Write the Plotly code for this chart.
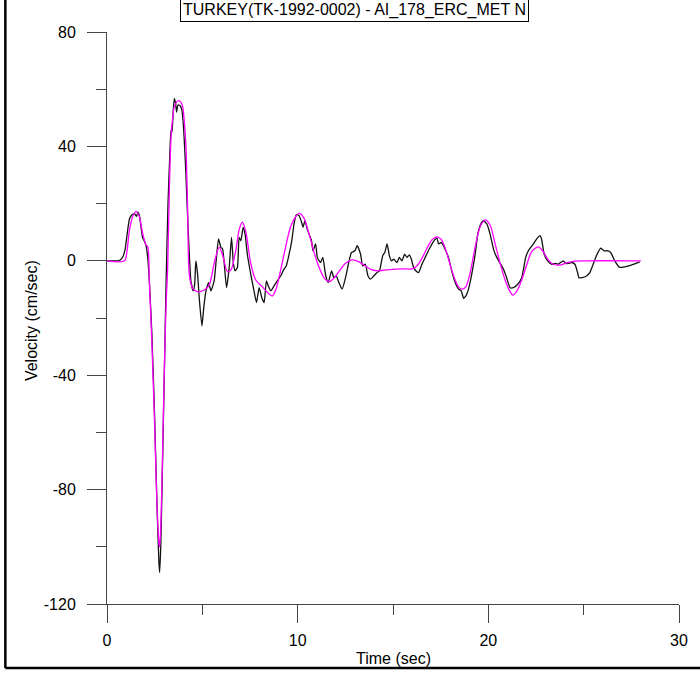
import plotly.graph_objects as go

# Recorded velocity (black)
rec_t = [0.0, 0.5, 0.7, 0.83, 0.95, 1.05, 1.18, 1.3, 1.44, 1.55, 1.62, 1.7, 1.8, 1.87, 1.95, 2.05, 2.15, 2.22,
         2.35, 2.5, 2.62, 2.72, 2.76, 2.82, 2.9, 3.0, 3.1, 3.2, 3.3, 3.36, 3.41, 3.47, 3.53, 3.6, 3.65, 3.72,
         3.79, 3.86, 3.93, 4.0, 4.07, 4.14, 4.25, 4.4, 4.52, 4.6, 4.66, 4.75, 4.85, 4.98, 5.08, 5.19, 5.33,
         5.45, 5.62, 5.74, 5.85, 5.97, 6.06, 6.27, 6.41, 6.53, 6.63, 6.72, 6.84, 6.93, 7.02, 7.14, 7.24, 7.36,
         7.54, 7.71, 7.84, 7.98, 8.12, 8.24, 8.36, 8.46, 8.59, 8.76, 8.93, 9.11, 9.28, 9.4, 9.55, 9.69, 9.81,
         9.93, 10.07, 10.21, 10.28, 10.38, 10.5, 10.63, 10.73, 10.8, 10.94, 11.03, 11.2, 11.32, 11.46, 11.6,
         11.78, 11.9, 12.02, 12.16, 12.33, 12.51, 12.68, 12.82, 13.0, 13.12, 13.3, 13.41, 13.55, 13.69, 13.82,
         13.99, 14.16, 14.29, 14.46, 14.57, 14.69, 14.81, 14.92, 15.04, 15.21, 15.33, 15.47, 15.61, 15.73,
         15.86, 15.96, 16.08, 16.2, 16.34, 16.52, 16.69, 16.9, 17.13, 17.3, 17.39, 17.53, 17.65, 17.77, 17.91,
         18.08, 18.26, 18.44, 18.58, 18.7, 18.82, 18.96, 19.13, 19.31, 19.45, 19.62, 19.74, 19.92, 20.09,
         20.27, 20.44, 20.62, 20.79, 20.96, 21.14, 21.31, 21.54, 21.75, 21.96, 22.1, 22.36, 22.53, 22.71,
         22.79, 22.93, 23.11, 23.32, 23.53, 23.67, 23.93, 24.05, 24.19, 24.36, 24.54, 24.68, 24.75, 24.92,
         25.15, 25.32, 25.5, 25.67, 25.9, 26.07, 26.28, 26.42, 26.63, 26.89, 27.15, 27.5, 27.94]
rec_v = [0.0, 0.0, 0.3, 1.4, 4.0, 9.0, 14.7, 16.0, 16.5, 15.5, 17.0, 15.8, 11.0, 8.0, 7.0, 5.2, 0.0, -7.0,
         -25.0, -55.0, -85.0, -105.0, -109.0, -100.0, -75.0, -42.0, -7.0, 20.0, 38.0, 45.6, 45.0, 52.0, 56.8,
         55.0, 52.0, 54.5, 54.4, 54.0, 52.6, 48.0, 40.0, 30.0, 12.0, -7.0, -10.5, -8.0, 0.0, -4.6, -14.0,
         -22.8, -16.0, -10.5, -7.6, -10.5, -7.0, 1.2, 7.7, 4.7, 4.2, -9.4, -2.3, 8.2, -1.0, -3.5, -2.3, 8.2,
         7.0, 11.7, 9.4, 2.3, -4.7, -10.5, -14.6, -9.4, -12.9, -14.6, -7.0, -8.8, -10.5, -8.8, -7.0, -5.3,
         -2.9, -1.8, 2.3, 7.0, 12.9, 16.1, 15.8, 13.4, 11.7, 14.0, 11.1, 8.8, 7.0, 3.5, 5.9, 1.2, -0.6, 1.2,
         -4.7, -7.6, -3.5, -5.9, -5.3, -7.6, -9.9, -5.9, -0.6, 2.9, 3.5, 5.3, 2.3, -1.8, -1.2, -5.3, -6.4,
         -5.3, -4.1, -3.5, 1.8, 2.9, 5.9, 1.8, 0.0, 0.6, -0.6, 1.2, 0.0, 2.3, 1.2, 2.1, 0.6, -2.3, -3.5, -4.1,
         -1.2, 1.2, 4.1, 6.8, 8.0, 5.9, 6.4, 5.3, 3.5, 1.2, -3.5, -7.6, -9.9, -10.5, -13.1, -12.3, -9.9, -4.7,
         2.3, 9.4, 13.1, 14.0, 12.9, 9.4, 4.1, 1.2, -0.9, -2.9, -5.9, -9.4, -9.4, -8.2, -5.9, 1.2, 3.5, 5.9,
         7.6, 8.8, 7.6, 2.3, 0.0, -1.2, -0.9, -1.2, 0.0, -0.9, -0.9, -0.6, -1.2, -4.1, -5.9, -5.9, -5.3, -4.1,
         -1.2, 1.8, 4.4, 3.5, 3.5, 2.9, 0.0, -2.3, -2.1, -1.5, -0.4]

# Fitted velocity (magenta)
fit_t = [0.0, 0.92, 1.05, 1.18, 1.35, 1.53, 1.7, 1.87, 2.05, 2.14, 2.22, 2.35, 2.5, 2.62, 2.72, 2.76, 2.82,
         2.9, 3.0, 3.1, 3.18, 3.27, 3.36, 3.45, 3.53, 3.65, 3.76, 3.87, 3.97, 4.05, 4.14, 4.23, 4.32, 4.49,
         4.75, 5.1, 5.36, 5.62, 5.88, 6.06, 6.32, 6.5, 6.76, 6.93, 7.1, 7.28, 7.54, 7.8, 8.15, 8.5, 8.67, 8.85,
         9.11, 9.37, 9.63, 9.89, 10.1, 10.33, 10.59, 10.85, 11.11, 11.37, 11.64, 11.9, 12.16, 12.51, 12.86,
         13.2, 13.55, 13.9, 14.25, 14.95, 15.47, 15.99, 16.25, 16.52, 16.78, 17.04, 17.3, 17.53, 17.74, 18.0,
         18.26, 18.44, 18.61, 18.82, 19.04, 19.31, 19.57, 19.83, 20.09, 20.35, 20.62, 20.88, 21.14, 21.28,
         21.48, 21.75, 22.01, 22.27, 22.62, 22.88, 23.14, 23.4, 23.75, 24.1, 24.54, 25.0, 28.0]
fit_v = [0.0, 0.0, 3.5, 10.8, 15.5, 17.2, 15.4, 9.6, 5.5, 4.9, -7.0, -28.0, -58.0, -85.0, -98.0, -100.0,
         -93.0, -72.0, -40.0, -15.0, -3.0, 25.0, 43.4, 50.5, 53.9, 55.5, 56.0, 55.5, 53.9, 49.0, 40.0, 18.0,
         -5.0, -9.6, -10.8, -10.2, -8.5, -0.9, 4.7, 2.0, -3.8, -3.2, 3.8, 10.8, 13.5, 10.2, -0.9, -6.7, -9.1,
         -11.6, -12.3, -10.2, -3.2, 4.9, 11.9, 15.4, 16.6, 14.9, 9.6, 3.2, -2.1, -5.8, -7.3, -6.1, -3.8, -0.9,
         0.3, -0.3, -1.8, -3.2, -3.5, -3.0, -2.8, -2.8, -1.8, 0.9, 4.4, 7.3, 8.4, 7.5, 4.4, -1.5, -6.7, -9.1,
         -9.9, -9.1, -4.4, 4.9, 11.9, 14.3, 12.5, 6.1, -0.9, -6.7, -10.8, -12.0, -10.8, -6.7, -1.5, 3.2, 4.9,
         3.2, 0.3, -1.2, -1.5, -0.7, -0.1, 0.0, 0.0]

x_ticks = [0, 10, 20, 30]
x_labels = ["0", "10", "20", "30"]
y_ticks = [-120, -80, -40, 0, 40, 80]
y_labels = ["-120", "-80", "-40", "0", "40", "80"]

FONT = "Liberation Sans, Arial, sans-serif"
AX = "#444444"
FS = 16

fig = go.Figure()
fig.add_trace(go.Scatter(x=rec_t, y=rec_v, mode="lines",
                         line=dict(color="#111111", width=1.3, shape="spline", smoothing=0.5),
                         showlegend=False))
fig.add_trace(go.Scatter(x=fit_t, y=fit_v, mode="lines",
                         line=dict(color="#ff00ff", width=1.3, shape="spline", smoothing=0.8),
                         showlegend=False))

fig.update_layout(
    width=700, height=675,
    margin=dict(l=107, r=19, t=32, b=71),
    paper_bgcolor="white", plot_bgcolor="white",
    font=dict(family=FONT, size=FS, color="black"),
    xaxis=dict(range=[0, 30], tickvals=x_ticks, ticktext=x_labels, ticks="outside", ticklen=18,
               tickcolor=AX, showline=True, linecolor=AX, linewidth=1, showgrid=False, zeroline=False,
               ticklabelstandoff=4, tickfont=dict(size=FS, family=FONT),
               minor=dict(dtick=5, tick0=0, ticks="outside", ticklen=10, tickcolor=AX, showgrid=False)),
    yaxis=dict(range=[-120, 80], tickvals=y_ticks, ticktext=y_labels, ticks="outside", ticklen=19,
               tickcolor=AX, showline=True, linecolor=AX, linewidth=1, showgrid=False, zeroline=False,
               ticklabelstandoff=8, tickfont=dict(size=FS, family=FONT),
               minor=dict(dtick=20, tick0=0, ticks="outside", ticklen=10, tickcolor=AX, showgrid=False)),
    annotations=[
        dict(text="TURKEY(TK-1992-0002) - AI_178_ERC_MET N", xref="paper", yref="paper",
             x=0.4329, y=1.0376, xanchor="center", yanchor="middle", showarrow=False,
             bordercolor="black", borderwidth=1, borderpad=2, bgcolor="white",
             font=dict(size=FS, family=FONT)),
        dict(text="Time (sec)", xref="paper", yref="paper", x=0.5, y=-0.0945,
             xanchor="center", yanchor="middle", showarrow=False, font=dict(size=FS, family=FONT)),
        dict(text="Velocity (cm/sec)", xref="paper", yref="paper", x=-0.1307, y=0.495,
             xanchor="center", yanchor="middle", textangle=-90, showarrow=False,
             font=dict(size=FS, family=FONT)),
    ],
    shapes=[
        dict(type="line", xref="paper", yref="paper", x0=-0.1777, x1=-0.1777, y0=1.07, y1=-0.1119,
             line=dict(color="black", width=2.5)),
        dict(type="line", xref="paper", yref="paper", x0=-0.1777, x1=1.05, y0=-0.1119, y1=-0.1119,
             line=dict(color="black", width=2.5)),
    ],
)

fig.write_html("out.html", config={"displayModeBar": False},
               post_script="document.body.style.margin='0';document.body.style.padding='0';")
